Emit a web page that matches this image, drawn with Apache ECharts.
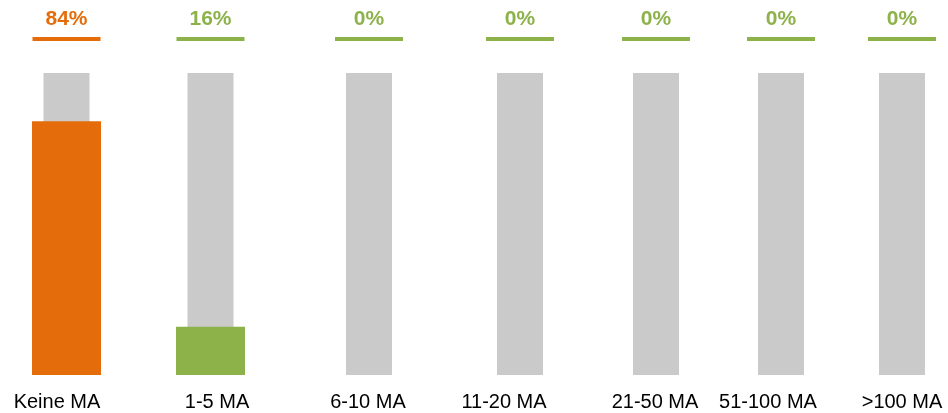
<!DOCTYPE html>
<html>
<head>
<meta charset="utf-8">
<script src="https://cdn.jsdelivr.net/npm/echarts@6/dist/echarts.min.js"></script>
<style>html,body{margin:0;padding:0;background:#fff}#c{width:948px;height:413px}</style>
</head>
<body>
<div id="c"></div>
<script>
// Data
const categories = ['Keine MA', '1-5 MA', '6-10 MA', '11-20 MA', '21-50 MA', '51-100 MA', '>100 MA'];
const percentValues = [84, 16, 0, 0, 0, 0, 0];
const maxValue = 100;

// Layout (not data)
const barCenters = [66.5, 210.5, 369, 520, 656, 781, 902];
const labelCenters = [57, 217, 368, 504, 655, 768, 902];
const ORANGE = '#E46C0A', GREEN = '#8DB24A', GRAY = '#CACACA';
const seriesColors = [ORANGE, GREEN, GREEN, GREEN, GREEN, GREEN, GREEN];

const chart = echarts.init(document.getElementById('c'), null, {renderer: 'canvas'});
const FONT = '"Liberation Sans", Arial, sans-serif';

chart.setOption({
  animation: false,
  grid: {left: 0, right: 0, top: 73, bottom: 38, containLabel: false},
  xAxis: [
    {type: 'value', min: 0, max: 948, show: false},
    {type: 'value', min: 0, max: 948, show: false},
    {type: 'value', min: 0, max: 948, position: 'bottom',
      axisLine: {show: false}, splitLine: {show: false},
      axisTick: {show: false},
      axisLabel: {
        show: true, margin: 17, color: '#000', fontSize: 20, fontFamily: FONT,
        customValues: labelCenters,
        formatter: v => {
          const i = labelCenters.indexOf(v);
          return i >= 0 ? categories[i] : '';
        }
      }
    }
  ],
  yAxis: {type: 'value', min: 0, max: maxValue, show: false},
  series: [
    {
      type: 'bar', xAxisIndex: 1, barWidth: 46,
      itemStyle: {color: GRAY},
      data: barCenters.map(x => [x, maxValue]),
      silent: true, z: 1
    },
    {
      type: 'bar', xAxisIndex: 0, barWidth: 69,
      data: percentValues.map((v, i) => ({value: [barCenters[i], v], itemStyle: {color: seriesColors[i]}})),
      z: 2
    },
    {
      type: 'custom', xAxisIndex: 0, clip: false,
      data: percentValues.map((v, i) => [barCenters[i], maxValue, v]),
      renderItem: (params, api) => {
        const i = params.dataIndex;
        const pt = api.coord([api.value(0), api.value(1)]);
        const col = seriesColors[i];
        return {
          type: 'group',
          children: [
            {type: 'rect', shape: {x: pt[0] - 34, y: pt[1] - 36, width: 68, height: 4}, style: {fill: col}},
            {type: 'text', x: pt[0], y: pt[1] - 54,
              style: {text: api.value(2) + '%', fill: col, font: 'bold 21px ' + FONT, align: 'center', verticalAlign: 'middle'}}
          ]
        };
      },
      z: 3
    }
  ]
});
</script>
</body>
</html>
